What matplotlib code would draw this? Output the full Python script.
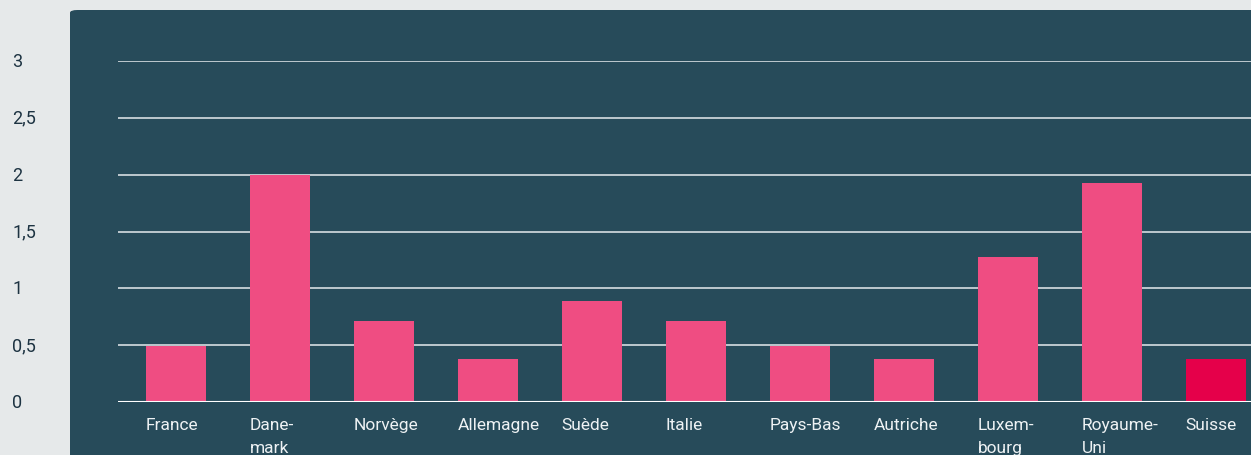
import matplotlib.pyplot as plt
from matplotlib.patches import FancyBboxPatch
from matplotlib import transforms

pays = ['France', 'Dane-\nmark', 'Norvège', 'Allemagne', 'Suède', 'Italie',
        'Pays-Bas', 'Autriche', 'Luxem-\nbourg', 'Royaume-\nUni', 'Suisse']
valeurs = [0.49, 2.0, 0.71, 0.38, 0.89, 0.71, 0.49, 0.38, 1.28, 1.93, 0.38]
yticks = [0, 0.5, 1, 1.5, 2, 2.5, 3]
ylabels = ['0', '0,5', '1', '1,5', '2', '2,5', '3']

plt.rcParams['font.family'] = ['Roboto', 'DejaVu Sans']

W, H = 1251, 456
fig = plt.figure(figsize=(W / 100, H / 100), dpi=100)
fig.patch.set_facecolor('#e6e9ea')

# dark panel
panel = FancyBboxPatch((70 / W, -0.05), 1.2, (456 - 11) / H + 0.05,
                       boxstyle='round,pad=0,rounding_size=0.006',
                       transform=fig.transFigure, facecolor='#274b5a',
                       edgecolor='none', zorder=-1)
fig.patches.append(panel)

ax = fig.add_axes([118 / W, (H - 403) / H, (W - 118) / W, (403 - 62) / H])
ax.set_zorder(2)
ax.set_facecolor('none')
ax.set_ylim(0, 3)
ax.set_xlim(-0.558, 10.34)

x = list(range(len(pays)))
colors = ['#ef4d82'] * (len(pays) - 1) + ['#e5004a']
ax.bar(x, valeurs, width=0.58, color=colors, zorder=3)

for t in yticks[1:]:
    ax.axhline(t, color='#c9d3d8', lw=1.3, zorder=1)
ax.axhline(0, color='white', lw=1.5, zorder=4)

for s in ax.spines.values():
    s.set_visible(False)
ax.set_xticks([])
ax.set_yticks([])

trans = transforms.blended_transform_factory(fig.transFigure, ax.transData)
for t, lab in zip(yticks, ylabels):
    fig.text(12 / W, t, lab, transform=trans, ha='left', va='center',
             fontsize=13, color='#1d3342', zorder=3)

for xi, lab in zip(x, pays):
    ax.text(xi - 0.29, -0.135, lab, ha='left', va='top', fontsize=12.5,
            color='#eef2f4', linespacing=1.6, clip_on=False)

fig.savefig('out.png', dpi=100, facecolor=fig.get_facecolor())
